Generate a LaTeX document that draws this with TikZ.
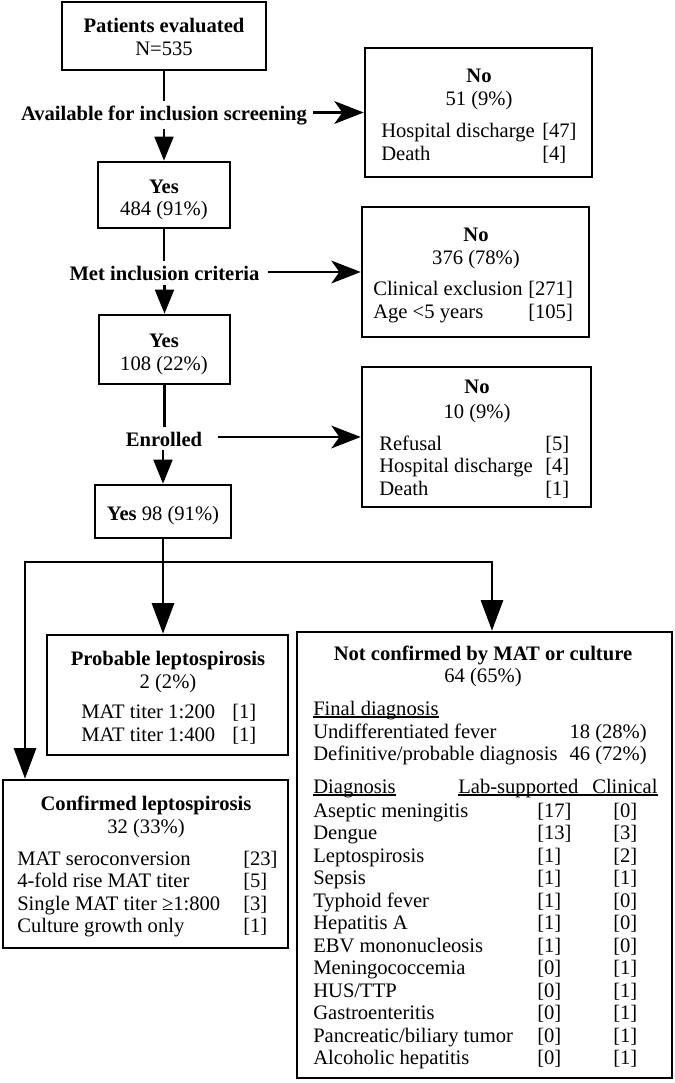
\documentclass[tikz,border=0pt]{standalone}
\usepackage{fontspec}
\setmainfont{Liberation Serif}
\usetikzlibrary{arrows.meta,fit}
\begin{document}
\begin{tikzpicture}[x=0.75pt,y=-0.75pt,
  every node/.style={inner sep=0pt, font=\fontsize{15.45}{18}\selectfont},
  box/.style={draw, line width=1.9pt, inner sep=0pt, rectangle},
  conn/.style={line width=2.2pt},
  harrow/.style={conn, -{Stealth[length=22pt,width=17pt,inset=6pt]}},
  varrow/.style={conn, -{Triangle[length=18pt,width=14pt]}},
  barrow/.style={conn, -{Triangle[length=23pt,width=16.5pt]}},
  lbl/.style={font=\fontsize{15.45}{18}\selectfont\bfseries, inner ysep=3pt, anchor=base},
  ttl/.style={font=\fontsize{15.45}{18}\selectfont\bfseries, anchor=base},
  ctr/.style={anchor=base},
  lft/.style={anchor=base west},
  rgt/.style={anchor=base east},
  ulline/.style={line width=0.8pt}
]
\useasboundingbox (0,0) rectangle (675,1083);
\fill[white] (0,0) rectangle (675,1083);

% ---- top box
\node[box, fit={(62,2) (266,70)}] (b1) {};
\node[ttl] (b1a) at (164,32) {Patients evaluated};
\node[ctr] (b1b) at (164,55) {N=535};

\node[lbl, inner xsep=4.5pt] (lab1) at (164,120) {Available for inclusion screening};

% ---- No 1
\node[box, fit={(365,48) (592,177)}] (no1) {};
\node[ttl] (no1a) at (479,82) {No};
\node[ctr] (no1b) at (479,105) {51 (9\%)};
\node[lft] (no1c) at (381,137) {Hospital discharge};
\node[lft] (no1d) at (542,137) {[47]};
\node[lft] (no1e) at (381,160) {Death};
\node[lft] (no1f) at (542,160) {[4]};

% ---- Yes 1
\node[box, fit={(98,162) (230,228)}] (y1) {};
\node[ttl] (y1a) at (164,193) {Yes};
\node[ctr] (y1b) at (164,215) {484 (91\%)};

\node[lbl, inner xsep=6pt] (lab2) at (164.5,280) {Met inclusion criteria};

% ---- No 2
\node[box, fit={(362,207) (589,337)}] (no2) {};
\node[ttl] (no2a) at (476,241) {No};
\node[ctr] (no2b) at (476,264) {376 (78\%)};
\node[lft] (no2c) at (373,295) {Clinical exclusion};
\node[lft] (no2d) at (528,295) {[271]};
\node[lft] (no2e) at (373,318) {Age <5 years};
\node[lft] (no2f) at (528,318) {[105]};

% ---- Yes 2
\node[box, fit={(99,315) (230,384)}] (y2) {};
\node[ttl] (y2a) at (164,347) {Yes};
\node[ctr] (y2b) at (164,370) {108 (22\%)};

\node[lbl, inner xsep=12pt] (lab3) at (164,446) {Enrolled};

% ---- No 3
\node[box, fit={(362,367) (591,507)}] (no3) {};
\node[ttl] (no3a) at (477,393) {No};
\node[ctr] (no3b) at (477,418) {10 (9\%)};
\node[lft] (no3c) at (379,450) {Refusal};
\node[lft] (no3d) at (545,450) {[5]};
\node[lft] (no3e) at (379,472) {Hospital discharge};
\node[lft] (no3f) at (545,472) {[4]};
\node[lft] (no3g) at (379,495) {Death};
\node[lft] (no3h) at (545,495) {[1]};

% ---- Yes 3
\node[box, fit={(95,485) (231,538)}] (y3) {};
\node[ctr] (y3a) at (163,520) {\textbf{Yes} 98 (91\%)};

% ---- Probable
\node[box, fit={(47,635) (288,755)}] (prob) {};
\node[ttl] (proba) at (168,665) {Probable leptospirosis};
\node[ctr] (probb) at (168,688) {2 (2\%)};
\node[lft] (probc) at (81,718) {MAT titer 1:200};
\node[lft] (probd) at (232,718) {[1]};
\node[lft] (probe) at (81,741) {MAT titer 1:400};
\node[lft] (probf) at (232,741) {[1]};

% ---- Confirmed
\node[box, fit={(3,780) (288,948)}] (conf) {};
\node[ttl] (confa) at (146,810) {Confirmed leptospirosis};
\node[ctr] (confb) at (146,833) {32 (33\%)};
\node[lft] (confc) at (17,865) {MAT seroconversion};
\node[lft] (confd) at (243,865) {[23]};
\node[lft] (confe) at (17,887.5) {4-fold rise MAT titer};
\node[lft] (conff) at (243,887.5) {[5]};
\node[lft] (confg) at (17,910) {Single MAT titer ≥1:800};
\node[lft] (confh) at (243,910) {[3]};
\node[lft] (confi) at (17,932.5) {Culture growth only};
\node[lft] (confj) at (243,932.5) {[1]};

% ---- Not confirmed
\node[box, fit={(297,632) (672,1078)}] (notc) {};
\node[ttl] (notca) at (483,660) {Not confirmed by MAT or culture};
\node[ctr] (notcb) at (483,682) {64 (65\%)};
\node[lft] (fd) at (313,715) {Final diagnosis};
\draw[ulline] ([yshift=-1.5pt]fd.base west) -- ([yshift=-1.5pt]fd.base east);
\node[lft] (fd1) at (313,738) {Undifferentiated fever};
\node[rgt] (fd1n) at (647,738) {18 (28\%)};
\node[lft] (fd2) at (313,760) {Definitive/probable diagnosis};
\node[rgt] (fd2n) at (647,760) {46 (72\%)};
\node[lft] (hd) at (313,793) {Diagnosis};
\node[lft] (hl) at (458,793) {Lab-supported};
\node[lft] (hc) at (592,793) {Clinical};
\draw[ulline] ([yshift=-1.5pt]hd.base west) -- ([yshift=-1.5pt]hd.base east);
\draw[ulline] ([yshift=-1.5pt]hl.base west) -- ([yshift=-1.5pt]hc.base east);
\foreach \i/\nm/\la/\cl in {0/Aseptic meningitis/17/0, 1/Dengue/13/3, 2/Leptospirosis/1/2,
  3/Sepsis/1/1, 4/Typhoid fever/1/0, 5/Hepatitis A/1/0, 6/EBV mononucleosis/1/0,
  7/Meningococcemia/0/1, 8/{HUS/TTP}/0/1, 9/Gastroenteritis/0/1,
  10/{Pancreatic/biliary tumor}/0/1, 11/Alcoholic hepatitis/0/1}{
  \node[lft] (dn\i) at (313,{817+22.5*\i}) {\nm};
  \node[lft] (dl\i) at (537,{817+22.5*\i}) {[\la]};
  \node[lft] (dc\i) at (613,{817+22.5*\i}) {[\cl]};
}

% ---- connectors
\draw[conn] (b1.south) -- (b1.south |- lab1.north);
\draw[varrow] (lab1.south -| y1.north) -- (y1.north);
\draw[harrow] (lab1.east |- no1.west) -- (no1.west);

\draw[conn] (y1.south) -- (y1.south |- lab2.north);
\draw[varrow] (lab2.south -| y2.north) -- (y2.north);
\draw[harrow] (lab2.east |- no2.west) -- (no2.west);

\draw[conn] (y2.south) -- (y2.south |- lab3.north);
\draw[varrow] (lab3.south -| y3.north) -- (y3.north);
\draw[harrow] (lab3.east |- no3.west) -- (no3.west);

\coordinate (jL) at (25,562);
\coordinate (jR) at (492,562);
\draw[barrow] (y3.south) -- (y3.south |- prob.north);
\draw[barrow, line join=miter] (jR) -- (jL) -- (jL |- conf.north);
\draw[barrow, line join=miter] (jL) -- (jR) -- (jR |- notc.north);
\end{tikzpicture}
\end{document}
